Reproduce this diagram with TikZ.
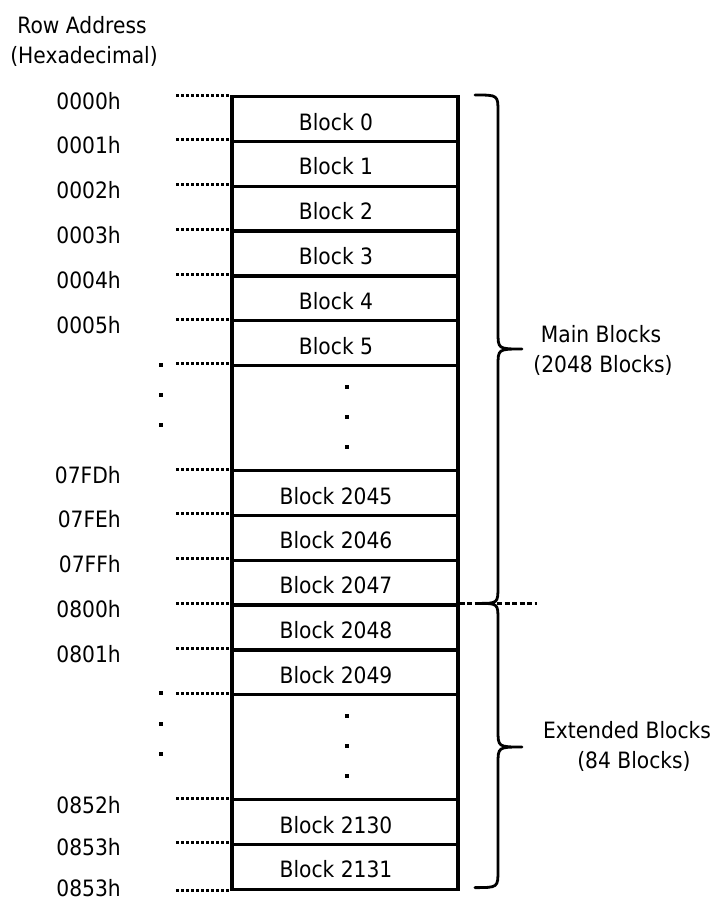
\documentclass[tikz,border=0pt]{standalone}
\usepackage{fontspec}
\setmainfont{DejaVu Sans}[FakeStretch=0.9]
\usetikzlibrary{calc}
\begin{document}
\begin{tikzpicture}[x=1pt,y=-1pt,
  txt/.style={font=\fontsize{22.5}{27}\selectfont, inner sep=0pt, anchor=base},
  addr/.style={txt, anchor=base east},
  blockbox/.style={draw, line width=3.3pt, minimum width=226pt, inner sep=0pt, anchor=north},
  dotline/.style={line width=3pt, dash pattern=on 2.7pt off 2.3pt},
  bracepath/.style={line width=2.8pt, line join=round, line cap=round},
  dashline/.style={line width=2.2pt, dash pattern=on 5pt off 2.5pt},
  dotmark/.style={fill, minimum size=3.5pt, inner sep=0pt}]
\useasboundingbox (0,0) rectangle (717,902);

% title
\node[txt] (title1) at (82,33) {Row Address};
\node[txt] (title2) at (84,63) {(Hexadecimal)};

% block rows: name / top / height / text
\foreach \n/\t/\h/\s in {
  b0/95/44.8/Block 0, b1/139.8/44.8/Block 1, b2/184.6/44.8/Block 2,
  b3/229.4/44.8/Block 3, b4/274.2/44.8/Block 4, b5/319/44.8/Block 5,
  b2045/469/44.8/Block 2045, b2046/513.8/44.8/Block 2046, b2047/558.6/44.8/Block 2047,
  b2048/603.4/44.8/Block 2048, b2049/648.2/44.8/Block 2049,
  b2130/798/44.8/Block 2130, b2131/842.8/44.8/Block 2131}{
  \node[blockbox, minimum height=\h pt] (\n) at (345,\t) {};
  \node[txt] (t\n) at ([xshift=-9pt,yshift=-11pt]\n.center) {\s};
}
\node[blockbox, minimum height=105.2pt] (d1) at (345,363.8) {};
\node[blockbox, minimum height=105pt] (d2) at (345,693) {};

% dots inside the gap rows
\foreach \y [count=\i] in {387,417,447}{
  \node[dotmark] (ia\i) at (347,\y) {};
}
\foreach \y [count=\i] in {716,746,776}{
  \node[dotmark] (ib\i) at (347,\y) {};
}
% dots in address column
\foreach \y [count=\i] in {365,395,425}{
  \node[dotmark] (la\i) at (161,\y) {};
}
\foreach \y [count=\i] in {693,724,754}{
  \node[dotmark] (lb\i) at (161,\y) {};
}

% dotted leader lines
\foreach \n in {b0,b1,b2,b3,b4,b5,d1,b2045,b2046,b2047,b2048,b2049,d2,b2130,b2131}{
  \draw[dotline] ($(\n.north west)+(-54,0)$) -- (\n.north west);
}
\draw[dotline] ($(b2131.south west)+(-54,0)$) -- (b2131.south west);

% addresses
\node[addr] (a0) at (121,109) {0000h};
\node[addr] (a1) at (121,153.8) {0001h};
\node[addr] (a2) at (121,198.6) {0002h};
\node[addr] (a3) at (121,243.4) {0003h};
\node[addr] (a4) at (121,288.2) {0004h};
\node[addr] (a5) at (121,333) {0005h};
\node[addr] (a7FD) at (121,483) {07FDh};
\node[addr] (a7FE) at (121,527.8) {07FEh};
\node[addr] (a7FF) at (121,572.6) {07FFh};
\node[addr] (a800) at (121,617.4) {0800h};
\node[addr] (a801) at (121,662.2) {0801h};
\node[addr] (a852) at (121,813) {0852h};
\node[addr] (a853) at (121,855) {0853h};
\node[addr] (a853b) at (121,896) {0853h};

% dashed boundary line
\coordinate (dashend) at (537,603.4);
\draw[dashline] (b2048.north east) -- (dashend);

% braces
\draw[bracepath] (475,95) .. controls (498,95) .. (498,112) -- (498,332)
  .. controls (498,349) .. (522,349) .. controls (498,349) .. (498,366)
  -- (498,586) .. controls (498,603.4) .. (478,603.4);
\draw[bracepath] (478,603.4) .. controls (498,603.4) .. (498,620) -- (498,730)
  .. controls (498,747) .. (522,747) .. controls (498,747) .. (498,764)
  -- (498,870) .. controls (498,887.6) .. (475,887.6);

% brace labels
\node[txt] (main1) at (601,342) {Main Blocks};
\node[txt] (main2) at (603,372) {(2048 Blocks)};
\node[txt] (ext1) at (627,738) {Extended Blocks};
\node[txt] (ext2) at (634,768) {(84 Blocks)};
\end{tikzpicture}
\end{document}
